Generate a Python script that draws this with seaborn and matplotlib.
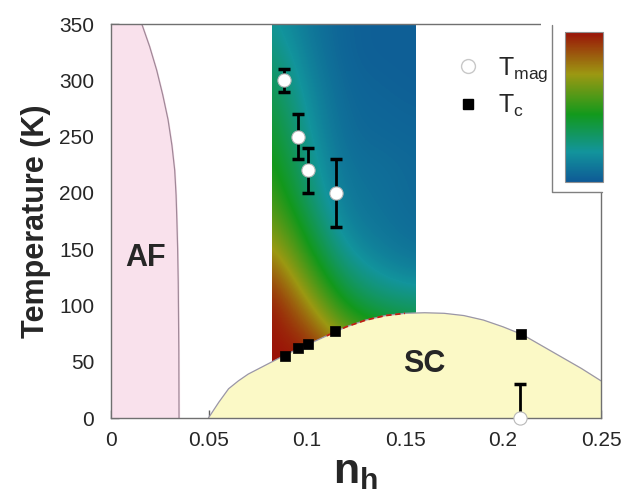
import numpy as np
import matplotlib
matplotlib.use('Agg')
import matplotlib.pyplot as plt
import seaborn as sns
from matplotlib.colors import LinearSegmentedColormap
from matplotlib.patches import Rectangle
from matplotlib.lines import Line2D

# magnetic crossover T_mag (open circles) with error bars
mag_n = [0.0884, 0.0956, 0.1007, 0.1146, 0.2087]
mag_T = [300, 250, 220, 200, 0]
mag_err = [10, 20, 20, 30, 30]

# superconducting Tc (black squares)
tc_n = [0.0888, 0.0952, 0.1003, 0.1143, 0.2090]
tc_T = [55, 62, 66, 77, 75]

# SC dome boundary
dome_n = [0.0497, 0.055, 0.06, 0.065, 0.07, 0.08, 0.09, 0.10, 0.11, 0.12, 0.13, 0.14, 0.15,
          0.16, 0.17, 0.18, 0.19, 0.20, 0.21, 0.22, 0.23, 0.24, 0.25]
dome_T = [0, 14, 26, 33, 39, 48, 57, 65, 73, 81, 87, 91, 93,
          93.5, 93, 91, 87, 81, 74, 64, 54, 44, 33]

# AF boundary
af_T = [350, 330, 309, 287, 265, 242, 220, 198, 176, 150, 120, 60, 0]
af_n = [0.0157, 0.0197, 0.0233, 0.0264, 0.0291, 0.0311, 0.0325, 0.0332, 0.0336,
        0.0340, 0.0343, 0.0346, 0.0347]

# colour map field (0 = blue, 1 = red), rows = T (25..350), columns = n
field_n = [0.082, 0.100, 0.1185, 0.137, 0.155]
field_T = [25, 50, 75, 100, 125, 150, 175, 200, 225, 250, 275, 300, 325, 350]
field_z = [
    [1.00, 1.00, 1.00, 0.90, 0.80],
    [1.00, 1.00, 0.92, 0.75, 0.60],
    [1.00, 0.92, 0.64, 0.50, 0.42],
    [1.00, 0.76, 0.45, 0.33, 0.30],
    [0.90, 0.60, 0.31, 0.20, 0.15],
    [0.77, 0.47, 0.20, 0.12, 0.08],
    [0.65, 0.37, 0.13, 0.09, 0.06],
    [0.56, 0.29, 0.10, 0.08, 0.05],
    [0.50, 0.25, 0.08, 0.07, 0.05],
    [0.45, 0.21, 0.06, 0.05, 0.04],
    [0.40, 0.18, 0.05, 0.04, 0.03],
    [0.35, 0.15, 0.04, 0.03, 0.02],
    [0.29, 0.12, 0.03, 0.02, 0.02],
    [0.23, 0.10, 0.03, 0.02, 0.02],
]

xticks = [0, 0.05, 0.1, 0.15, 0.2, 0.25]
xticklabels = ['0', '0.05', '0.1', '0.15', '0.2', '0.25']
yticks = [0, 50, 100, 150, 200, 250, 300, 350]

sns.set_style('ticks')
plt.rcParams['font.family'] = ['Liberation Sans', 'DejaVu Sans']

W, H = 638, 504
fig = plt.figure(figsize=(W / 100, H / 100), dpi=100)
ax = fig.add_axes([111 / W, 1 - 418 / H, 490 / W, 394 / H])

cmap = LinearSegmentedColormap.from_list('pg', [
    (0.0, '#0e5a96'), (0.2, '#12949c'), (0.45, '#12991c'),
    (0.72, '#9c9812'), (1.0, '#9a1208')])

dn = (field_n[-1] - field_n[0]) / (len(field_n) - 1)
dT = field_T[1] - field_T[0]
img = ax.imshow(np.array(field_z), cmap=cmap, vmin=0, vmax=1, origin='lower',
                interpolation='bicubic', aspect='auto', zorder=1,
                extent=[field_n[0] - dn / 2, field_n[-1] + dn / 2,
                        field_T[0] - dT / 2, field_T[-1] + dT / 2])
img.set_clip_path(Rectangle((field_n[0], 0), field_n[-1] - field_n[0], 350,
                            transform=ax.transData))

ax.fill_betweenx(af_T, 0, af_n, color='#f9e1ec', zorder=2)
ax.plot(af_n, af_T, color='#a08898', lw=0.9, zorder=2)

ax.fill_between(dome_n, 0, dome_T, color='#fbf9c6', zorder=2)
ax.plot(dome_n, dome_T, color='#9a96a8', lw=0.9, zorder=2)
ax.plot(dome_n[8:13], dome_T[8:13], color='#c02010', lw=1.3, ls=(0, (3, 2)), zorder=2)

ax.errorbar(mag_n, mag_T, yerr=mag_err, fmt='none', ecolor='black',
            elinewidth=2, capsize=4, capthick=2.5, zorder=3)
sns.scatterplot(x=mag_n, y=mag_T, ax=ax, marker='o', s=90, color='white',
                edgecolor='#b8b8b8', linewidth=0.8, clip_on=False, zorder=4)
sns.scatterplot(x=tc_n, y=tc_T, ax=ax, marker='s', s=60, color='black',
                edgecolor='black', linewidth=0.5, zorder=5)

ax.text(0.0175, 142, 'AF', fontsize=22, fontweight='bold', ha='center', va='center', zorder=6)
ax.text(0.1597, 48, 'SC', fontsize=22, fontweight='bold', ha='center', va='center', zorder=6)

ax.set_xlim(0, 0.25)
ax.set_ylim(0, 350)
ax.set_xticks(xticks)
ax.set_xticklabels(xticklabels)
ax.set_yticks(yticks)
ax.tick_params(direction='in', length=6, width=1, color='#606060',
               labelsize=15, pad=9)
ax.tick_params(axis='y', pad=12)
for sp in ax.spines.values():
    sp.set_color('#707070')
    sp.set_linewidth(1)
ax.set_xlabel(r'$\mathregular{n_h}$', fontsize=31, fontweight='bold', labelpad=2)
ax.set_ylabel('Temperature (K)', fontsize=22, fontweight='bold', labelpad=6)

# white legend box covering the upper right corner
fig.add_artist(Rectangle((541 / W, 1 - 192 / H), 1, 1, transform=fig.transFigure,
                         facecolor='white', edgecolor='none', zorder=10))
fig.add_artist(Line2D([552 / W, 552 / W, 602 / W], [1 - 25 / H, 1 - 192 / H, 1 - 192 / H],
                      transform=fig.transFigure, color='#808080', lw=1, zorder=11))

cax = fig.add_axes([565 / W, 1 - 182 / H, 38 / W, 150 / H], zorder=12)
cb = fig.colorbar(img, cax=cax)
cb.set_ticks([])
cb.outline.set_edgecolor('#909090')
cb.outline.set_linewidth(0.8)

handles = [
    Line2D([], [], marker='o', ls='none', ms=10, mfc='white', mec='#c8c8c8', mew=1),
    Line2D([], [], marker='s', ls='none', ms=7, mfc='black', mec='black'),
]
labels = [r'$\mathregular{T_{mag}}$', r'$\mathregular{T_c}$']
leg = fig.legend(handles, labels, loc='upper left', bbox_to_anchor=(430 / W, 1 - 33 / H),
                 frameon=False, fontsize=18, handletextpad=0.6, labelspacing=0.35,
                 handlelength=1.2)
leg.set_zorder(13)

fig.savefig('out.png', dpi=100)
